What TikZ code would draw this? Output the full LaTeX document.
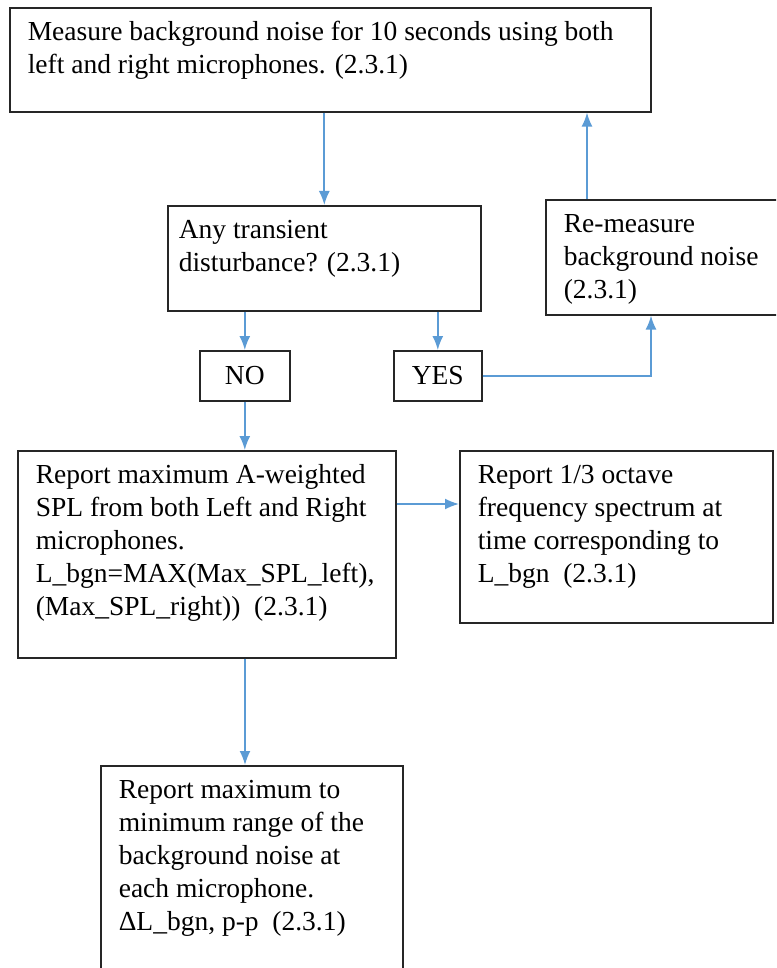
\documentclass[tikz,border=0pt]{standalone}
\usepackage{fontspec}
\setmainfont{Liberation Serif}
\usepackage{tikz}
\usetikzlibrary{arrows.meta,calc}
\definecolor{flowblue}{RGB}{91,155,213}
% box text: [left pad]{width}{height}{lines}
\newcommand{\boxtext}[4][18pt]{\parbox[t][#3][t]{#2}{\raggedright\leftskip=#1\rule{0pt}{33pt}#4}}
\tikzset{
  stepbox/.style={draw=black!85, line width=1.6pt, anchor=north west, inner sep=0pt,
    font=\fontsize{27.5}{33}\selectfont},
  answer/.style={stepbox, minimum height=50pt},
  flow/.style={draw=flowblue, line width=1.7pt, -{Latex[length=14pt,width=11pt]}},
}

\begin{document}
\begin{tikzpicture}[x=1pt,y=-1pt]
    \clip (0,0) rectangle (776,968);
    % Measure
    \node[stepbox] (measure) at (9,7)
        {\boxtext{641pt}{104pt}{Measure background noise for 10 seconds using both\\left and right microphones. (2.3.1)}};
    % Check
    \node[stepbox] (transient) at (167,205)
        {\boxtext[11pt]{313pt}{105pt}{Any transient\\disturbance? (2.3.1)}};
    \node[stepbox] (remeasure) at (545,199)
        {\boxtext{245pt}{115pt}{Re-measure\\background noise\\(2.3.1)}};
    \node[answer, minimum width=90pt] (no) at (199,350) {NO};
    \node[answer, minimum width=88pt] (yes) at (393,350) {YES};
    % Reports
    \node[stepbox] (report) at (17,450)
        {\boxtext{378pt}{207pt}{Report maximum A-weighted\\SPL from both Left and Right\\microphones.\\L\_bgn=MAX(Max\_SPL\_left),\\(Max\_SPL\_right))~~(2.3.1)}};
    \node[stepbox] (spectrum) at (459,450)
        {\boxtext{313pt}{172pt}{Report 1/3 octave\\frequency spectrum at\\time corresponding to\\L\_bgn~~(2.3.1)}};
    \node[stepbox] (range) at (100,765)
        {\boxtext{302pt}{225pt}{Report maximum to\\minimum range of the\\background noise at\\each microphone.\\ΔL\_bgn, p-p~~(2.3.1)}};
    % Connectors
    \coordinate (upfoot) at ([xshift=42pt]remeasure.north west);
    \coordinate (yesfoot) at ([xshift=106pt]remeasure.south west);
    \coordinate (rptout) at ([yshift=-54pt]report.north east);
    \coordinate (rptfoot) at ([xshift=228pt]report.south west);
    \draw[flow] (measure.south -| transient.north) -- (transient.north);
    \draw[flow] (upfoot) -- (upfoot |- measure.south);
    \draw[flow] (transient.south -| no.north) -- (no.north);
    \draw[flow] (transient.south -| yes.north) -- (yes.north);
    \draw[flow] (yes.east) -| (yesfoot);
    \draw[flow] (no.south) -- (no.south |- report.north);
    \draw[flow] (rptout) -- (rptout -| spectrum.west);
    \draw[flow] (rptfoot) -- (rptfoot |- range.north);
\end{tikzpicture}
\end{document}
